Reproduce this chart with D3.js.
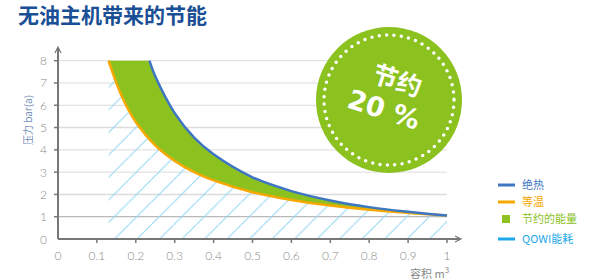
<!DOCTYPE html>
<html>
<head>
<meta charset="utf-8">
<script src="https://cdn.jsdelivr.net/npm/d3@7"></script>
<style>
  body { margin: 0; background: #fff; }
  svg { display: block; font-family: "Noto Sans CJK SC", "Noto Sans", sans-serif; }
</style>
</head>
<body>
<svg id="chart"></svg>
<script>
const WIDTH = 596;
const HEIGHT = 280;

// Data
const xTicks = [0, 0.1, 0.2, 0.3, 0.4, 0.5, 0.6, 0.7, 0.8, 0.9, 1];
const xTickLabels = ["0", "0.1", "0.2", "0.3", "0.4", "0.5", "0.6", "0.7", "0.8", "0.9", "1"];
const yTicks = [0, 1, 2, 3, 4, 5, 6, 7, 8];
// isothermal curve (等温)
const isoVolume = [0.13, 0.15, 0.175, 0.2, 0.25, 0.3, 0.35, 0.4, 0.5, 0.6, 0.7, 0.8, 0.9, 1.0];
const isoPressure = [8, 7.0, 6.0, 5.25, 4.2, 3.5, 3.0, 2.63, 2.1, 1.75, 1.5, 1.31, 1.17, 1.05];
// adiabatic curve (绝热)
const adiVolume = [0.235, 0.25, 0.3, 0.35, 0.4, 0.5, 0.6, 0.7, 0.8, 0.9, 1.0];
const adiPressure = [8, 7.3, 5.65, 4.55, 3.8, 2.77, 2.15, 1.73, 1.43, 1.22, 1.05];
const legendLabels = ["绝热", "等温", "节约的能量", "QOWI能耗"];
const legendColors = ["#3f76c2", "#f6a800", "#8cc21f", "#1ca8e8"];

const svg = d3.select("#chart").attr("width", WIDTH).attr("height", HEIGHT);
const defs = svg.append("defs");

const x = d3.scaleLinear().domain([0, 1]).range([58, 447]);
const y = d3.scaleLinear().domain([0, 8]).range([239, 60.7]);

const iso = isoVolume.map((v, i) => [v, isoPressure[i]]);
const adi = adiVolume.map((v, i) => [v, adiPressure[i]]);

const line = d3.line()
    .x(d => x(d[0]))
    .y(d => y(d[1]))
    .curve(d3.curveCatmullRom);

// Title
svg.append("text")
    .attr("x", 18)
    .attr("y", 23)
    .attr("fill", "#1b4f95")
    .attr("font-size", 21)
    .attr("font-weight", "bold")
    .text("无油主机带来的节能");

// Gridlines
svg.append("g")
    .selectAll("line")
    .data(yTicks.filter(t => t > 0))
    .enter()
    .append("line")
    .attr("x1", x(0))
    .attr("x2", x(1))
    .attr("y1", d => y(d))
    .attr("y2", d => y(d))
    .attr("stroke", d => d == 1 ? "#a8a8a8" : "#dcdcdc")
    .attr("stroke-width", d => d == 2 || d == 5 ? 1.6 : 1);

// Hatch pattern under the isotherm
const pattern = defs.append("pattern")
    .attr("id", "hatch")
    .attr("patternUnits", "userSpaceOnUse")
    .attr("x", 16)
    .attr("y", 0)
    .attr("width", 22.5)
    .attr("height", 22.5);
pattern.append("line")
    .attr("x1", -2).attr("y1", 24.5)
    .attr("x2", 24.5).attr("y2", -2)
    .attr("stroke", "#92d5f4")
    .attr("stroke-width", 1);

const hatchPath = "M" + x(isoVolume[0]) + "," + y(0) + "L" + line(iso).slice(1)
    + "L" + x(1) + "," + y(0) + "Z";
svg.append("path")
    .attr("d", hatchPath)
    .attr("fill", "url(#hatch)");

// Saved energy area between the curves
const savedPath = line(adi) + "L" + line(iso.slice().reverse()).slice(1) + "Z";
svg.append("path")
    .attr("d", savedPath)
    .attr("fill", "#8cc21f");

svg.append("path")
    .attr("d", line(iso))
    .attr("fill", "none")
    .attr("stroke", "#f6a800")
    .attr("stroke-width", 2.5);

svg.append("path")
    .attr("d", line(adi))
    .attr("fill", "none")
    .attr("stroke", "#3f76c2")
    .attr("stroke-width", 2.5);

// Axes
const axisColor = "#777";
const axes = svg.append("g").attr("stroke", axisColor).attr("fill", "none");
axes.append("line")
    .attr("x1", x(0)).attr("y1", y(0))
    .attr("x2", x(0)).attr("y2", 48)
    .attr("stroke-width", 2);
axes.append("path")
    .attr("d", "M" + (x(0) - 3) + ",53L" + x(0) + ",47L" + (x(0) + 3) + ",53")
    .attr("stroke-width", 1.2);
axes.append("line")
    .attr("x1", x(0)).attr("y1", y(0))
    .attr("x2", 460).attr("y2", y(0))
    .attr("stroke-width", 2);
axes.append("path")
    .attr("d", "M455," + (y(0) - 3) + "L461," + y(0) + "L455," + (y(0) + 3))
    .attr("stroke-width", 1.2);

axes.selectAll(".xtick")
    .data(xTicks.filter(t => t > 0))
    .enter()
    .append("line")
    .attr("x1", d => x(d)).attr("x2", d => x(d))
    .attr("y1", y(0)).attr("y2", y(0) + 4)
    .attr("stroke-width", 1.5);
axes.selectAll(".ytick")
    .data(yTicks.filter(t => t > 0))
    .enter()
    .append("line")
    .attr("x1", x(0) - 4).attr("x2", x(0))
    .attr("y1", d => y(d)).attr("y2", d => y(d))
    .attr("stroke-width", 1.5);

svg.append("g")
    .selectAll("text")
    .data(xTicks)
    .enter()
    .append("text")
    .attr("x", d => x(d))
    .attr("y", 260)
    .attr("text-anchor", "middle")
    .attr("fill", "#8a8a8a")
    .attr("font-size", 12)
    .attr("font-weight", 300)
    .attr("font-family", "Lato, sans-serif")
    .text((d, i) => xTickLabels[i]);

svg.append("g")
    .selectAll("text")
    .data(yTicks)
    .enter()
    .append("text")
    .attr("x", 47)
    .attr("y", d => y(d) + 4.5)
    .attr("text-anchor", "end")
    .attr("fill", "#8a8a8a")
    .attr("font-size", 12)
    .attr("font-weight", 300)
    .attr("font-family", "Lato, sans-serif")
    .text(d => d);

// Axis titles
svg.append("text")
    .attr("transform", "translate(32,120) rotate(-90)")
    .attr("text-anchor", "middle")
    .attr("fill", "#6f8db8")
    .attr("font-size", 10)
    .text("压力 bar(a)");

const xTitle = svg.append("text")
    .attr("x", 410)
    .attr("y", 278)
    .attr("fill", "#8a8a8a")
    .attr("font-size", 11);
xTitle.append("tspan").text("容积  m");
xTitle.append("tspan").attr("dy", -5).attr("font-size", 8).text("3");

// Badge
const badge = svg.append("g").attr("transform", "translate(389,100)");
badge.append("circle").attr("r", 73).attr("fill", "#8cc21f");
badge.append("circle")
    .attr("r", 65)
    .attr("fill", "none")
    .attr("stroke", "#fff")
    .attr("stroke-width", 3.5)
    .attr("stroke-linecap", "round")
    .attr("stroke-dasharray", "0 7.4");
const badgeText = badge.append("g").attr("transform", "rotate(18)");
badgeText.append("text")
    .attr("x", 2)
    .attr("y", -12)
    .attr("text-anchor", "middle")
    .attr("fill", "#fff")
    .attr("font-size", 25)
    .attr("font-weight", "bold")
    .text("节约");
badgeText.append("text")
    .attr("x", -2)
    .attr("y", 20)
    .attr("text-anchor", "middle")
    .attr("fill", "#fff")
    .attr("font-size", 27)
    .attr("font-weight", "bold")
    .attr("font-family", "'DejaVu Sans', sans-serif")
    .text("20 %");

// Legend
const legendY = [185, 202, 219, 239];
const legend = svg.append("g");
legendLabels.forEach((label, i) => {
    if (i == 2) {
        legend.append("rect")
            .attr("x", 502).attr("y", legendY[i] - 4)
            .attr("width", 8).attr("height", 8)
            .attr("fill", legendColors[i]);
    } else {
        legend.append("line")
            .attr("x1", 498).attr("x2", 515)
            .attr("y1", legendY[i]).attr("y2", legendY[i])
            .attr("stroke", legendColors[i])
            .attr("stroke-width", 3);
    }
    legend.append("text")
        .attr("x", 522)
        .attr("y", legendY[i] + 4)
        .attr("fill", legendColors[i])
        .attr("font-size", 11)
        .text(label);
});
</script>
</body>
</html>
